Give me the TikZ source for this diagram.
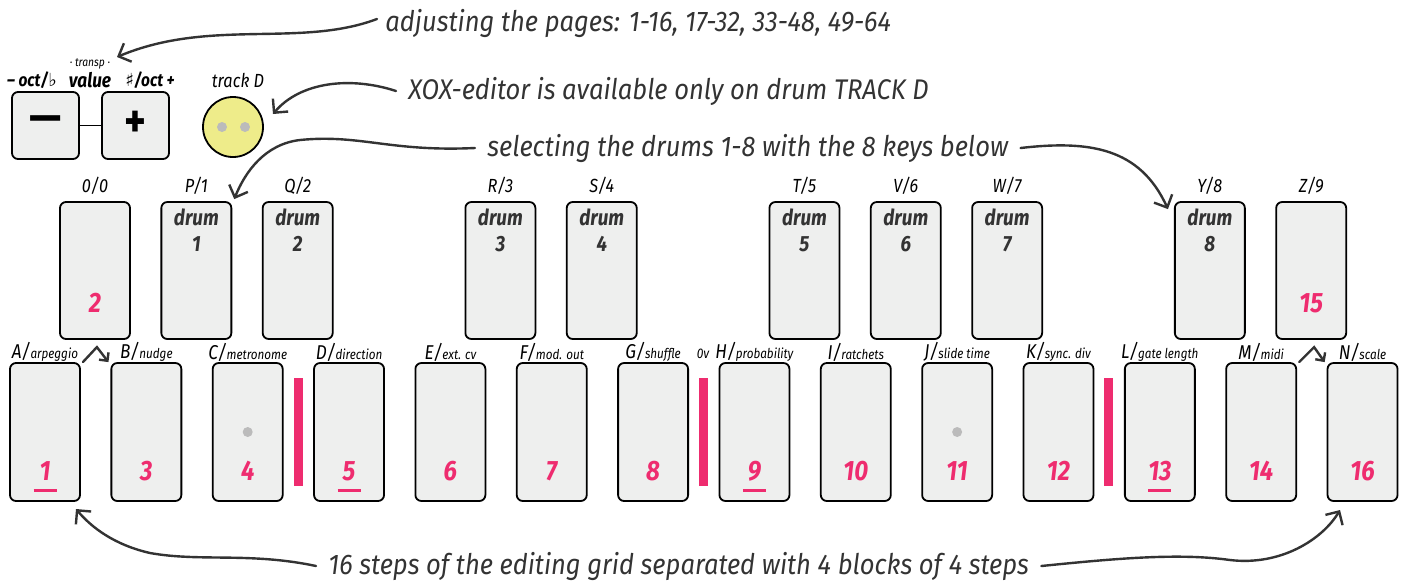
\documentclass[tikz,border=0pt]{standalone}
\usepackage{fontspec}
\setmainfont{Fira Sans}[FakeStretch=0.86]
\newfontfamily\annfont{Fira Sans}[FakeStretch=0.9]
\newfontfamily\symfont{DejaVu Sans}
\usetikzlibrary{arrows.meta}
\definecolor{pinkc}{HTML}{EE2C6F}
\definecolor{darkc}{HTML}{333333}
\definecolor{keyfill}{HTML}{EEEFEE}
\definecolor{yel}{HTML}{EEEC8A}
\definecolor{dotc}{HTML}{BBBBBB}
\tikzset{
  key/.style={draw=black, line width=0.9pt, fill=keyfill, rounded corners=3pt, minimum width=35pt, minimum height=69pt, inner sep=0pt},
  btn/.style={draw=black, line width=0.9pt, fill=keyfill, rounded corners=3pt, minimum width=33.5pt, minimum height=33.5pt, inner sep=0pt, font=\fontsize{24}{24}\selectfont\bfseries},
  lbl/.style={inner sep=0pt, font=\itshape},
  toplbl/.style={inner sep=0pt, font=\fontsize{9.5}{10}\selectfont\itshape},
  num/.style={inner sep=0pt, text=pinkc, font=\fontsize{14}{15}\selectfont\bfseries\itshape},
  drumtxt/.style={inner sep=0pt, text=darkc, align=center, font=\fontsize{11}{13}\selectfont\bfseries\itshape},
  ann/.style={inner sep=0pt, text=darkc, font=\annfont\fontsize{14.2}{16}\selectfont\itshape},
  bar/.style={fill=pinkc, inner sep=0pt, minimum width=4.5pt, minimum height=54pt},
  gdot/.style={circle, fill=dotc, inner sep=0pt, minimum size=5pt},
  arr/.style={draw=darkc, line width=1.2pt, line cap=round, -{Straight Barb[length=5pt,width=10pt,line width=1.2pt]}},
  smallarr/.style={draw=darkc, line width=1.2pt, line cap=round, -{Straight Barb[length=3pt,width=6pt,line width=1.2pt]}},
  uline/.style={draw=pinkc, line width=1.5pt}
}
\begin{document}
\begin{tikzpicture}[x=0.5pt,y=-0.5pt]
\useasboundingbox (0,0) rectangle (1405,585);

% bottom row
\foreach \i/\n/\L/\w/\u in {0/1/A/arpeggio/1, 1/3/B/nudge/0, 2/4/C/metronome/0, 3/5/D/direction/1, 4/6/E/ext. cv/0, 5/7/F/mod. out/0, 6/8/G/shuffle/0, 7/9/H/probability/1, 8/10/I/ratchets/0, 9/11/J/slide time/0, 10/12/K/sync. div/0, 11/13/L/gate length/1, 12/14/M/midi/0, 13/16/N/scale/0}{
  \node[key] (b\n) at ({45+101.35*\i},432) {};
  \node[num] (bn\n) at ({45+101.35*\i},471) {\n};
  \node[lbl] (bl\n) at ({45+101.35*\i},352) {{\fontsize{10}{11}\selectfont\L}/{\fontsize{6.8}{8}\selectfont\w}};
  \ifnum\u=1
    \draw[uline] ({45+101.35*\i-11.5},490) -- ({45+101.35*\i+11.5},490);
  \fi
}

% top row
\node[key, minimum height=68.5pt] (t0) at (95,270.5) {};
\node[num] (tn0) at (95,303) {2};
\node[toplbl] (tl0) at (95,186) {0/0};
\foreach \j/\d/\L in {1/1/P, 2/2/Q, 4/3/R, 5/4/S, 7/5/T, 8/6/V, 9/7/W, 11/8/Y}{
  \node[key, minimum height=68.5pt] (t\d) at ({95+101.35*\j},270.5) {};
  \node[drumtxt] (td\d) at ({95+101.35*\j},230) {drum\\\d};
  \node[toplbl] (tl\d) at ({95+101.35*\j},186) {\L/\d};
}
\node[key, minimum height=68.5pt] (t15) at ({95+101.35*12},270.5) {};
\node[num] (tn15) at ({95+101.35*12},303) {15};
\node[toplbl] (tl15) at ({95+101.35*12},186) {Z/9};

% separators
\node[bar] (bar1) at (298.5,432) {};
\node[bar] (bar2) at (703.5,432) {};
\node[bar] (bar3) at (1108.5,432) {};
\node[inner sep=0pt, font=\fontsize{7}{8}\selectfont\itshape] (ov) at (703,354) {0v};

% dots
\node[gdot] (d4) at (b4.center) {};
\node[gdot] (d11) at (b11.center) {};

% small arrows
\draw[smallarr] ([xshift=1pt]b1.north east) -- ++(14,-15) -- ([xshift=-1pt]b3.north west);
\draw[smallarr] ([xshift=1pt]b14.north east) -- ++(15,-15) -- ([xshift=-1pt]b16.north west);

% minus / plus
\node[btn] (minus) at (45.5,125.5) {\raisebox{1pt}{\symfont\bfseries −}};
\node[btn] (plus) at (135.5,125.5) {\raisebox{1pt}{+}};
\draw[line width=0.9pt] (minus) -- (plus);
\node[inner sep=0pt, font=\fontsize{9}{10}\selectfont\bfseries\itshape] (octm) at (32,80) {– oct/{\symfont\bfseries ♭}};
\node[inner sep=0pt, font=\fontsize{10}{11}\selectfont\bfseries\itshape] (val) at (90,80) {value};
\node[inner sep=0pt, font=\fontsize{6}{7}\selectfont\itshape] (transp) at (90,64) {· transp ·};
\node[inner sep=0pt, font=\fontsize{9}{10}\selectfont\bfseries\itshape] (octp) at (150,80) {{\symfont\bfseries ♯}/oct +};

% track D
\node[circle, draw=black, line width=0.9pt, fill=yel, minimum size=30pt, inner sep=0pt] (trk) at (233,127) {};
\node[gdot] (td1) at (222,127) {};
\node[gdot] (td2) at (245,127) {};
\node[inner sep=0pt, font=\fontsize{9.5}{10}\selectfont\itshape] (trkl) at (238,80) {track D};

% annotations
\node[ann, anchor=west] (ann1) at (385,23) {adjusting the pages: 1-16, 17-32, 33-48, 49-64};
\node[ann, anchor=west] (ann2) at (408,91) {XOX-editor is available only on drum TRACK D};
\node[ann, anchor=west] (ann3) at (487,148) {selecting the drums 1-8 with the 8 keys below};
\node[ann, anchor=west] (ann4) at (328,566) {16 steps of the editing grid separated with 4 blocks of 4 steps};

\coordinate (e1) at (117,57);
\coordinate (e2) at (273,114);
\coordinate (e4l) at (76,509);
\coordinate (e4r) at (1340,510);

\draw[arr] ([xshift=-4pt,yshift=2pt]ann1.west) .. controls (300,48) and (210,18) .. (e1);
\draw[arr] ([xshift=-6pt]ann2.west) .. controls (350,76) and (300,82) .. (e2);
\draw[arr] ([xshift=-6pt]ann3.west) .. controls (390,152) and (360,134) .. (300,140) .. controls (265,144) and (245,172) .. ([xshift=1pt,yshift=1pt]t1.north east);
\draw[arr] ([xshift=6pt]ann3.east) .. controls (1090,140) and (1140,148) .. ([xshift=-3pt,yshift=-4pt]t8.north west);
\draw[arr] ([xshift=-6pt]ann4.west) .. controls (250,552) and (200,562) .. (150,553) .. controls (115,545) and (92,528) .. (e4l);
\draw[arr] ([xshift=6pt]ann4.east) .. controls (1120,558) and (1180,553) .. (1230,560) .. controls (1280,566) and (1322,540) .. (e4r);
\end{tikzpicture}
\end{document}
